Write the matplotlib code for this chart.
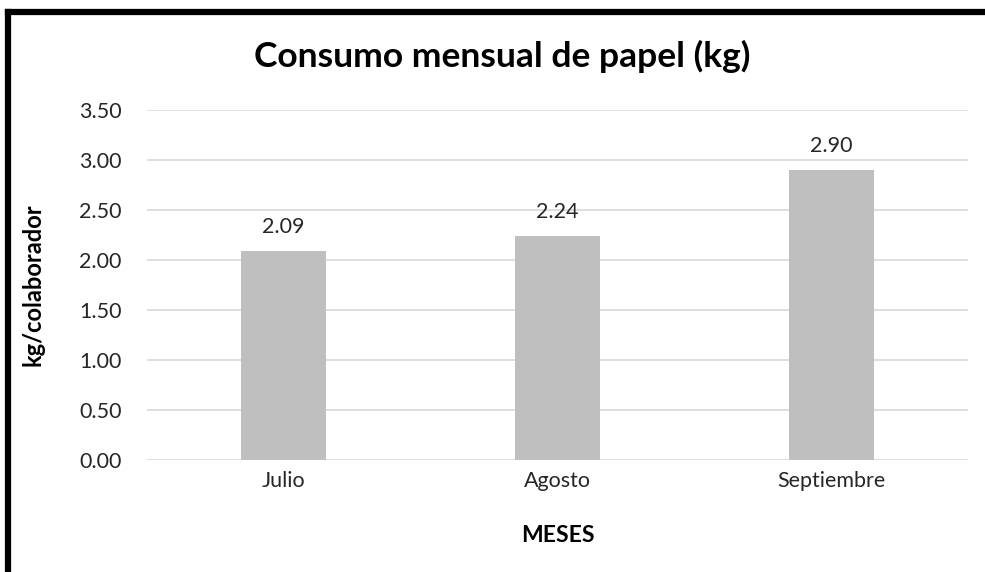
import matplotlib.pyplot as plt
from matplotlib.lines import Line2D

# data
meses = ['Julio', 'Agosto', 'Septiembre']
consumo = [2.09, 2.24, 2.90]
yticks = [0.0, 0.5, 1.0, 1.5, 2.0, 2.5, 3.0, 3.5]

plt.rcParams['font.family'] = ['Lato', 'DejaVu Sans']

fig = plt.figure(figsize=(9.85, 5.72), dpi=100)
ax = fig.add_axes([0.149, 0.196, 0.834, 0.612])

bars = ax.bar(range(len(meses)), consumo, width=0.31, color='#BFBFBF', zorder=2)
ax.bar_label(bars, labels=['%.2f' % v for v in consumo], padding=10,
             fontsize=15.5, color='#262626')

ax.set_xlim(-0.5, 2.5)
ax.set_ylim(0, 3.5)
ax.set_yticks(yticks)
ax.set_yticklabels(['%.2f' % t for t in yticks])
ax.set_xticks(range(len(meses)))
ax.set_xticklabels(meses)
ax.tick_params(axis='both', length=0, labelsize=15.5, colors='#262626')
ax.tick_params(axis='y', pad=18)
ax.tick_params(axis='x', pad=8)
ax.grid(axis='y', color='#D9D9D9', linewidth=1.2, zorder=0)
for s in ax.spines.values():
    s.set_visible(False)

fig.text(0.566, 0.063, 'MESES', ha='center', va='center', fontsize=16.5, fontweight='bold')
fig.text(33 / 985, 0.502, 'kg/colaborador', ha='center', va='center', rotation=90,
         fontsize=17, fontweight='bold')
fig.text(0.51, 0.902, 'Consumo mensual de papel (kg)', ha='center', va='center',
         fontsize=25.5, fontweight='bold')

# frame lines on top and left
fig.add_artist(Line2D([7.5 / 985, 1], [1 - 12 / 572] * 2, color='black', lw=4.5))
fig.add_artist(Line2D([7.5 / 985] * 2, [0, 1 - 12 / 572], color='black', lw=4.5))

fig.savefig('out.png', dpi=100)
